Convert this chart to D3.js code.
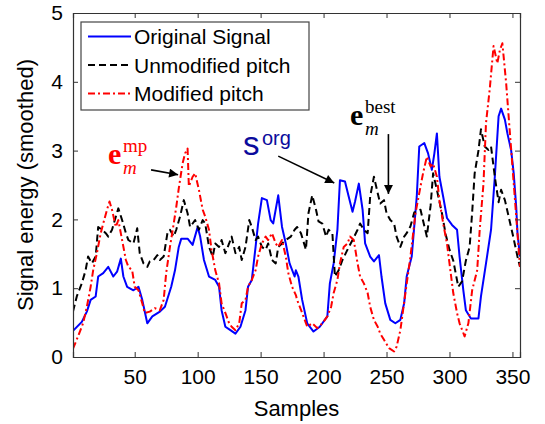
<!DOCTYPE html>
<html>
<head>
<meta charset="utf-8">
<script src="https://d3js.org/d3.v7.min.js"></script>
<style>
  body { margin: 0; background: #fff; }
  text { font-family: "Liberation Sans", Arial, sans-serif; fill: #000; }
  .math { font-family: "Liberation Serif", "Times New Roman", serif; }
</style>
</head>
<body>
<div id="chart"></div>
<script>
// samples / smoothed energy
var original = [[1,0.38],[8,0.51],[12,0.66],[15,0.83],[19,0.88],[21,1.17],[25,1.22],[29,1.31],[33,1.17],[36,1.24],[39,1.43],[41,1.17],[44,1.02],[49,0.97],[53,1.02],[56,0.83],[60,0.49],[64,0.59],[70,0.66],[74,0.73],[79,1.02],[82,1.26],[85,1.6],[87,1.72],[92,1.72],[96,1.63],[100,1.89],[102,1.75],[105,1.41],[109,1.17],[114,1.12],[117,1.02],[119,0.68],[122,0.44],[126,0.39],[130,0.34],[134,0.44],[138,0.68],[140,1.02],[143,1.12],[146,1.6],[148,1.94],[151,2.31],[155,2.28],[158,1.99],[160,1.94],[164,2.35],[167,1.89],[170,1.65],[173,1.36],[177,1.17],[178,1.26],[180,1.17],[183,0.83],[187,0.49],[192,0.37],[197,0.44],[203,0.59],[205,1.07],[208,1.36],[211,1.85],[213,2.57],[217,2.55],[220,2.33],[223,2.11],[225,2.26],[228,2.52],[231,2.14],[233,1.65],[237,1.46],[240,1.39],[244,1.48],[246,1.17],[249,0.78],[253,0.54],[257,0.49],[261,0.54],[264,0.78],[266,1.17],[270,1.46],[274,2.33],[276,3.06],[280,3.11],[283,2.96],[286,2.72],[288,2.96],[290,3.25],[292,2.62],[295,2.33],[298,2.02],[302,1.92],[306,1.85],[308,1.46],[311,0.97],[313,0.68],[317,0.56],[323,0.56],[325,0.88],[329,1.36],[333,1.85],[336,2.62],[339,3.5],[341,3.61],[344,3.45],[346,3.25],[349,3.0],[351,2.67],[353,2.18],[354,1.8],[356,1.46]];

var unmodified = [[1,0.66],[4,0.88],[8,1.07],[11,1.26],[13,1.46],[16,1.36],[19,1.46],[21,1.89],[24,1.85],[27,1.8],[29,1.75],[32,1.85],[35,2.04],[37,2.16],[40,1.99],[43,1.8],[45,1.7],[49,1.65],[52,1.87],[54,1.51],[57,1.36],[60,1.31],[62,1.39],[65,1.41],[68,1.48],[70,1.41],[73,1.46],[76,1.8],[78,1.85],[81,1.75],[83,1.85],[86,2.04],[89,2.28],[92,2.09],[94,1.89],[98,1.99],[101,1.85],[104,1.99],[106,1.94],[109,1.6],[112,1.46],[114,1.65],[117,1.6],[119,1.7],[122,1.51],[125,1.65],[127,1.75],[130,1.51],[133,1.6],[135,1.41],[138,1.6],[141,1.99],[143,1.89],[146,1.7],[148,1.75],[151,1.6],[154,1.56],[156,1.65],[159,1.41],[162,1.36],[164,1.6],[167,1.65],[170,1.7],[174,1.75],[177,1.85],[179,1.89],[182,1.8],[186,1.56],[188,2.09],[191,2.35],[194,2.14],[196,1.97],[199,1.94],[202,1.75],[204,1.85],[207,1.8],[209,1.17],[212,1.26],[215,1.41],[219,1.56],[223,1.7],[227,1.85],[229,1.94],[232,1.85],[235,1.8],[237,2.33],[240,2.62],[243,2.38],[245,2.23],[248,2.28],[250,2.09],[253,1.99],[256,1.94],[258,1.75],[261,1.6],[264,1.75],[266,1.8],[269,1.9],[272,2.1],[277,2.14],[282,1.75],[285,2.2],[287,2.67],[290,2.43],[294,2.09],[297,1.78],[300,1.56],[303,1.4],[307,1.02],[310,1.1],[313,1.4],[316,1.6],[318,2.1],[320,2.67],[323,3.0],[325,3.31],[328,3.06],[331,3.01],[333,3.06],[336,2.62],[339,2.25],[341,2.43],[344,2.28],[347,2.04],[350,1.8],[354,1.46],[356,1.31]];

var modified = [[1,0.12],[5,0.3],[9,0.49],[12,0.73],[15,1.02],[17,1.26],[20,1.51],[23,1.8],[25,1.94],[28,2.14],[30,2.26],[32,2.14],[35,1.89],[37,1.99],[40,1.7],[43,1.41],[45,1.31],[48,1.26],[50,1.02],[53,0.97],[56,0.78],[58,0.64],[62,0.66],[66,0.71],[70,0.68],[73,0.83],[75,1.22],[78,1.6],[81,1.94],[83,2.18],[85,2.45],[88,2.81],[90,2.96],[92,3.03],[93,2.48],[96,2.62],[98,2.67],[101,2.43],[104,2.14],[106,2.04],[109,1.85],[111,1.56],[114,1.26],[117,1.07],[119,0.78],[122,0.64],[125,0.49],[127,0.44],[130,0.39],[133,0.49],[135,0.78],[138,0.83],[140,1.02],[143,1.12],[146,1.26],[148,1.46],[151,1.65],[154,1.75],[156,1.7],[159,1.8],[162,1.65],[164,1.6],[167,1.7],[170,1.46],[172,1.22],[175,1.02],[178,0.9],[179,0.83],[183,0.64],[187,0.44],[191,0.49],[195,0.42],[199,0.49],[203,0.59],[206,0.73],[208,0.93],[211,1.12],[213,1.36],[216,1.6],[219,1.65],[221,1.75],[224,1.7],[227,1.36],[229,1.17],[232,1.07],[235,0.93],[237,0.73],[240,0.54],[243,0.44],[245,0.34],[248,0.25],[252,0.13],[256,0.08],[258,0.15],[261,0.39],[265,0.93],[269,1.46],[273,2.09],[277,2.48],[279,2.67],[282,2.91],[285,2.77],[287,2.81],[290,2.62],[292,2.28],[295,1.94],[298,1.65],[300,1.36],[303,0.93],[306,0.64],[308,0.49],[312,0.3],[315,0.49],[318,0.97],[322,1.26],[324,1.85],[327,2.52],[329,3.4],[332,3.9],[335,4.52],[338,4.27],[340,4.46],[342,4.56],[345,3.98],[348,3.25],[350,2.77],[353,2.04],[356,1.31]];

var xTicks = [50, 100, 150, 200, 250, 300, 350];
var yTicks = [0, 1, 2, 3, 4, 5];
var seriesNames = ["Original Signal", "Unmodified pitch", "Modified pitch"];

var W = 545, H = 424;
var margin = {top: 13, right: 25, bottom: 67, left: 73};
var w = W - margin.left - margin.right,
    h = H - margin.top - margin.bottom;

var x = d3.scaleLinear().domain([1, 356]).range([0, w]);
var y = d3.scaleLinear().domain([0, 5]).range([h, 0]);

var svg = d3.select("#chart").append("svg")
    .attr("width", W).attr("height", H);

var defs = svg.append("defs");
defs.append("marker").attr("id", "head")
    .attr("viewBox", "0 0 10 10").attr("refX", 10).attr("refY", 5)
    .attr("markerWidth", 11).attr("markerHeight", 9)
    .attr("markerUnits", "userSpaceOnUse")
    .attr("orient", "auto")
  .append("path").attr("d", "M0,0L10,5L0,10z").attr("fill", "#000");
defs.append("clipPath").attr("id", "clip")
  .append("rect").attr("width", w).attr("height", h);

var g = svg.append("g").attr("transform", "translate(" + margin.left + "," + margin.top + ")");

// series
var line = d3.line().x(function (d) { return x(d[0]); }).y(function (d) { return y(d[1]); });
var styles = [
  {data: original, color: "#0000ff", dash: null},
  {data: unmodified, color: "#000000", dash: "7,4"},
  {data: modified, color: "#ff0000", dash: "7,3,2,3"}
];
var lines = g.append("g").attr("clip-path", "url(#clip)");
styles.forEach(function (s) {
  lines.append("path").datum(s.data)
    .attr("d", line)
    .attr("fill", "none")
    .attr("stroke", s.color)
    .attr("stroke-width", 2)
    .attr("stroke-linejoin", "round")
    .attr("stroke-dasharray", s.dash);
});

// axes box with inward ticks (matlab style)
var tickLen = 5;
var fmt = d3.format("d");
var axBottom = g.append("g").attr("transform", "translate(0," + h + ")")
    .call(d3.axisBottom(x).tickValues(xTicks).tickSize(-tickLen).tickPadding(12).tickFormat(fmt));
var axLeft = g.append("g")
    .call(d3.axisLeft(y).tickValues(yTicks).tickSize(-tickLen).tickPadding(10).tickFormat(fmt));
var axTop = g.append("g")
    .call(d3.axisTop(x).tickValues(xTicks).tickSize(-tickLen).tickFormat(""));
var axRight = g.append("g").attr("transform", "translate(" + w + ",0)")
    .call(d3.axisRight(y).tickValues(yTicks).tickSize(-tickLen).tickFormat(""));
[axBottom, axLeft, axTop, axRight].forEach(function (a) {
  a.select(".domain").attr("stroke", "#333").attr("stroke-width", 1.2);
  a.selectAll(".tick line").attr("stroke", "#333");
  a.selectAll("text").attr("font-size", 21).attr("fill", "#000")
    .style("font-family", "'Liberation Sans', Arial, sans-serif");
});
// drop 0/5 tick marks that sit on the box
[axLeft, axRight].forEach(function (a) {
  a.selectAll(".tick").filter(function (d) { return d === 0 || d === 5; }).select("line").remove();
});

svg.append("text")
    .attr("x", margin.left + w / 2).attr("y", 416)
    .attr("text-anchor", "middle").attr("font-size", 22)
    .text("Samples");
svg.append("text")
    .attr("transform", "translate(33," + (margin.top + h / 2) + ") rotate(-90)")
    .attr("text-anchor", "middle").attr("font-size", 22)
    .text("Signal energy (smoothed)");

// legend
var leg = svg.append("g").attr("transform", "translate(81,22)");
leg.append("rect").attr("width", 228).attr("height", 88)
    .attr("fill", "#fff").attr("stroke", "#444").attr("stroke-width", 1.2);
styles.forEach(function (s, i) {
  var yy = 14.5 + i * 28.5;
  leg.append("line").attr("x1", 7).attr("x2", 50).attr("y1", yy).attr("y2", yy)
    .attr("stroke", s.color).attr("stroke-width", 2).attr("stroke-dasharray", s.dash);
  leg.append("text").attr("x", 53).attr("y", yy + 7.5).attr("font-size", 21)
    .text(seriesNames[i]);
});

// annotations, anchored in data units
function arrow(x1, y1, x2, y2) {
  g.append("line")
    .attr("x1", x(x1)).attr("y1", y(y1)).attr("x2", x(x2)).attr("y2", y(y2))
    .attr("stroke", "#000").attr("stroke-width", 1.6)
    .attr("marker-end", "url(#head)");
}

function mathLabel(sx, sv, color, sup) {
  var t = g.append("g").attr("transform", "translate(" + x(sx) + "," + y(sv) + ")");
  t.append("text").attr("class", "math").attr("font-size", 30).attr("font-weight", "bold")
    .style("fill", color).text("e");
  t.append("text").attr("class", "math").attr("x", 15).attr("y", -12).attr("font-size", 19)
    .style("fill", color).text(sup);
  t.append("text").attr("class", "math").attr("x", 15).attr("y", 10).attr("font-size", 19)
    .attr("font-style", "italic").style("fill", color).text("m");
}

mathLabel(28.8, 2.8, "#ff0000", "mp");
arrow(63, 2.72, 84.5, 2.65);

mathLabel(221, 3.37, "#000000", "best");
arrow(251.5, 3.24, 251.5, 2.37);

var sorg = g.append("g").attr("transform", "translate(" + x(136) + "," + y(2.94) + ")");
sorg.append("text").attr("font-size", 33).style("fill", "#0b0b9c").text("s");
sorg.append("text").attr("x", 19).attr("y", -10).attr("font-size", 20).style("fill", "#0b0b9c").text("org");
arrow(164, 2.92, 208.5, 2.53);
</script>
</body>
</html>
